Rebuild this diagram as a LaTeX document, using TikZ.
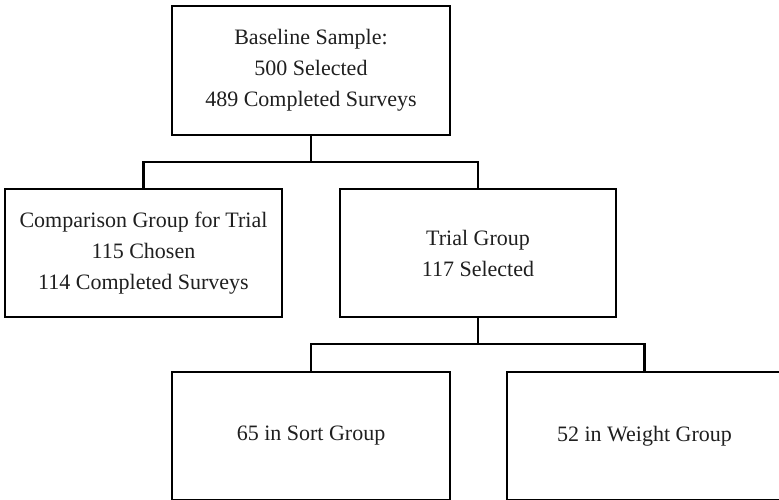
\documentclass[tikz,border=0pt]{standalone}
\usepackage{fontspec}
\setmainfont{Liberation Serif}
\begin{document}
\begin{tikzpicture}[x=1pt,y=-1pt,
  box/.style={draw=black, line width=2.2pt, rectangle, align=center, inner sep=2pt,
    font=\fontsize{22}{31}\selectfont, text=black!88},
  link/.style={draw=black, line width=2.2pt, line join=miter}]
\useasboundingbox (0,0) rectangle (779,500);
\node[box, minimum width=278pt, minimum height=129pt] (top) at (311,70.5)
  {Baseline Sample:\\500 Selected\\489 Completed Surveys};
\node[box, minimum width=277pt, minimum height=128pt] (left) at (143.5,253)
  {Comparison Group for Trial\\115 Chosen\\114 Completed Surveys};
\node[box, minimum width=276pt, minimum height=128pt] (mid) at (478,253)
  {Trial Group\\117 Selected};
\node[box, minimum width=278pt, minimum height=127.5pt] (sort) at (311,436)
  {65 in Sort Group};
\node[box, minimum width=275pt, minimum height=127.5pt] (weight) at (644.5,436)
  {52 in Weight Group};
\coordinate (j1) at (311,162);
\coordinate (j2) at (478,344);
\draw[link] (top.south) -- (j1);
\draw[link] (left.north) |- (j1) -| (mid.north);
\draw[link] (mid.south) -- (j2);
\draw[link] (sort.north) |- (j2) -| (weight.north);
\end{tikzpicture}
\end{document}
